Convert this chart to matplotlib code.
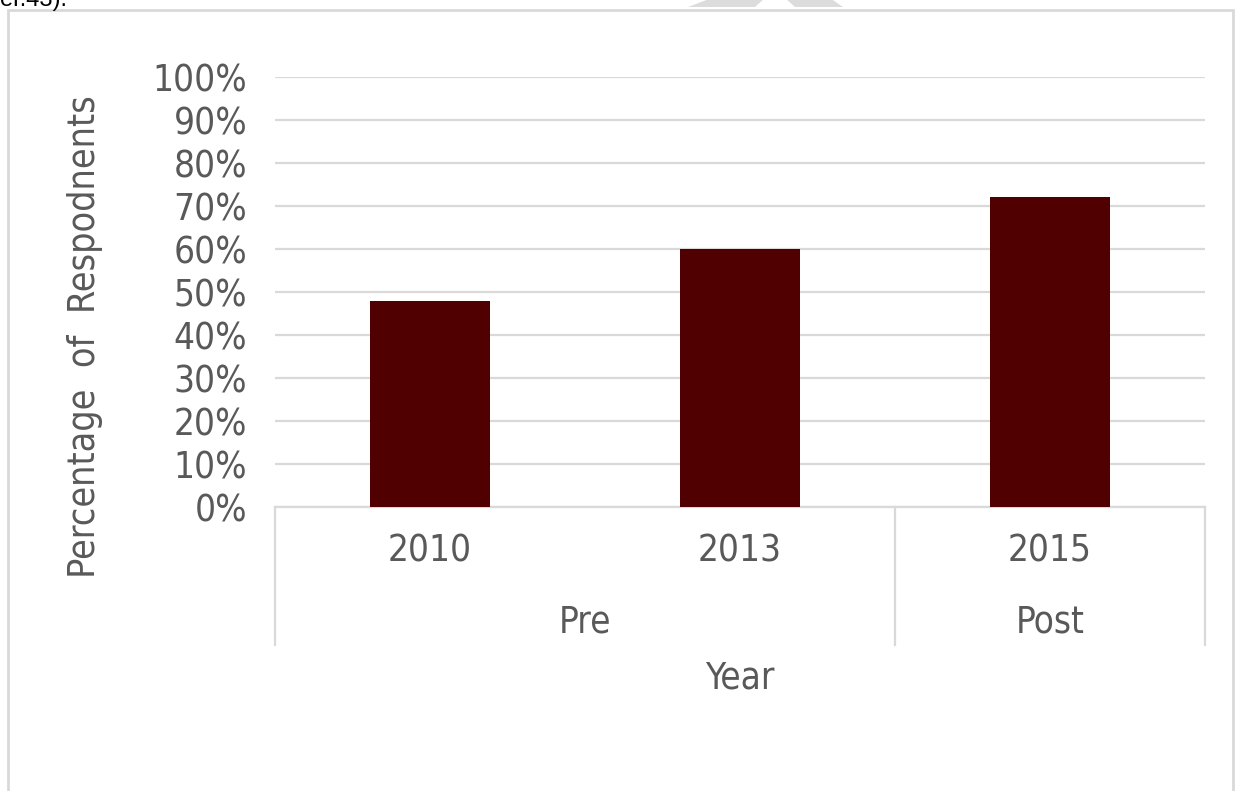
import matplotlib

matplotlib.use("Agg")
import matplotlib.pyplot as plt
from matplotlib import font_manager
from matplotlib.patches import Polygon, Rectangle

years = ["2010", "2013", "2015"]
shares = [0.48, 0.60, 0.72]
groups = ["Pre", "Post"]
group_spans = [(0, 1), (2, 2)]
y_ticks = [i / 10 for i in range(11)]
y_tick_labels = [f"{i * 10}%" for i in range(11)]

# the source uses a narrow face; take one if the system has it
fonts = font_manager.fontManager.ttflist
narrow = [f for f in fonts if "Narrow" in f.name or "Condensed" in f.name
          or (f.name in ("DejaVu Sans", "Liberation Sans") and f.stretch in ("condensed", "semi-condensed", 500 - 125))]
if narrow:
    family = [narrow[0].name, "DejaVu Sans"]
    stretch = narrow[0].stretch
    fs = 26.5
else:
    family = ["Liberation Sans", "DejaVu Sans"]
    stretch = "normal"
    fs = 26
plt.rcParams["font.family"] = family
plt.rcParams["font.stretch"] = stretch

W, H = 1235, 791
fig = plt.figure(figsize=(W / 100, H / 100), dpi=100)

# outer frame, watermark and clipped caption text
fig.patches.append(Rectangle((8 / W, -0.05), (1233 - 8) / W, 1.05 - 10 / H, transform=fig.transFigure,
                             fill=False, edgecolor="#d9d9d9", linewidth=2))
px = lambda x, y: (x / W, 1 - y / H)
fig.patches.append(Polygon([px(688, 7), px(712, -2), px(830, -2), px(843, 7)], closed=True,
                           transform=fig.transFigure, facecolor="#dcdcdc", edgecolor="none"))
fig.patches.append(Polygon([px(755, 7), px(765, -2), px(785, -2), px(795, 7)], closed=True,
                           transform=fig.transFigure, facecolor="white", edgecolor="none"))
fig.text(0, 1 - 6 / H, "er.43).", fontsize=17, color="black", va="baseline", ha="left",
         family=["Liberation Sans", "DejaVu Sans"], stretch="normal")

left, right, top, bottom = 275, 1205, 77, 507
ax = fig.add_axes([left / W, 1 - bottom / H, (right - left) / W, (bottom - top) / H])

text_color = "#595959"
grid_color = "#d9d9d9"

x = list(range(len(years)))
ax.bar(x, shares, width=0.39, color="#500000", zorder=3)
ax.set_xlim(-0.5, len(years) - 0.5)
ax.set_ylim(0, 1)
ax.set_yticks(y_ticks)
ax.set_yticklabels(y_tick_labels, fontsize=fs, color=text_color)
ax.tick_params(axis="y", length=0, pad=20)
ax.set_xticks([])
ax.grid(axis="y", color=grid_color, linewidth=1.6, zorder=0)
for side in ["top", "right", "left"]:
    ax.spines[side].set_visible(False)
ax.spines["bottom"].set_color(grid_color)
ax.spines["bottom"].set_linewidth(1.6)

span = bottom - top
depth = (645 - bottom) / span
for xv in [-0.5, 1.5, 2.5]:
    ax.plot([xv, xv], [0, -depth], color=grid_color, linewidth=1.6, clip_on=False)

for xi, label in zip(x, years):
    ax.text(xi, -(551 - bottom) / span, label, ha="center", va="center", fontsize=fs, color=text_color)
for (a, b), label in zip(group_spans, groups):
    ax.text((a + b) / 2, -(622 - bottom) / span, label, ha="center", va="center", fontsize=fs, color=text_color)

ax.text(0.5, -(678 - bottom) / span, "Year", transform=ax.transAxes, ha="center", va="center",
        fontsize=fs, color=text_color)
ax.text((85 - left) / (right - left), -(337 - bottom) / span, "Percentage  of  Respodnents",
        transform=ax.transAxes, rotation=90, ha="center", va="center", fontsize=27, color=text_color)

fig.savefig("out.png", dpi=100)
